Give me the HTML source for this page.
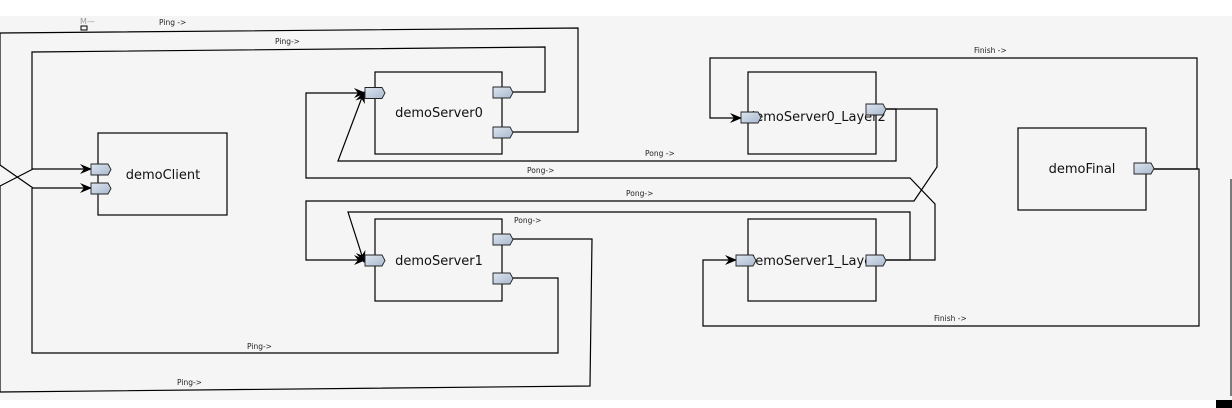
<!DOCTYPE html>
<html><head><meta charset="utf-8"><style>
html,body{margin:0;padding:0;background:#fff}
svg{display:block}
text{font-family:"DejaVu Sans","Liberation Sans",sans-serif}
</style></head><body>
<svg width="1232" height="408" viewBox="0 0 1232 408" xmlns="http://www.w3.org/2000/svg">
<defs>
<linearGradient id="pg" x1="0" y1="0" x2="1" y2="1">
<stop offset="0" stop-color="#dde5f0"/><stop offset="1" stop-color="#a9b9cf"/>
</linearGradient>
<marker id="ar" markerWidth="12" markerHeight="10" refX="11" refY="5" orient="auto" markerUnits="userSpaceOnUse">
<path d="M0,0 L12,5 L0,10 L4,5 Z" fill="#000"/>
</marker>
</defs>
<rect x="0" y="16" width="1232" height="384" fill="#f5f5f5"/>
<g fill="none" stroke="#000" stroke-width="1.2">
<polyline points="513,132 578,132 578,28 0,33 0,165 33,188 91,188" marker-end="url(#ar)"/>
<polyline points="513,92 545,92 545,47 32,52 32,169 91,169" marker-end="url(#ar)"/>
<polyline points="513,278 558,278 558,353 32,353 32,188"/>
<polyline points="513,239 592,239 590,386 0,392 0,186 33,169"/>
<polyline points="886,109 937,109 937,167 914,201 306,201 306,260 365,260" marker-end="url(#ar)"/>
<polyline points="886,260 935,260 935,204 910,178 306,178 306,93 365,93" marker-end="url(#ar)"/>
<polyline points="886,109 896,109 896,161 338,161 364,92" marker-end="url(#ar)"/>
<polyline points="886,260 910,260 910,212 348,212 364,262" marker-end="url(#ar)"/>
<polyline points="1154,169 1197,169 1197,58 710,58 710,118 741,118" marker-end="url(#ar)"/>
<polyline points="1154,169 1199,169 1199,326 703,326 703,260 736,260" marker-end="url(#ar)"/>
</g>
<g fill="#f5f5f5" stroke="#000" stroke-width="1.2">
<rect x="98" y="133" width="129" height="82"/>
<rect x="375" y="72" width="127" height="82"/>
<rect x="375" y="219" width="127" height="82"/>
<rect x="748" y="72" width="128" height="82"/>
<rect x="748" y="219" width="128" height="82"/>
<rect x="1018" y="128" width="128" height="82"/>
</g>
<g font-size="13" fill="#111" text-anchor="middle">
<text x="163" y="179">demoClient</text>
<text x="439" y="117">demoServer0</text>
<text x="439" y="265">demoServer1</text>
<text x="1082" y="173">demoFinal</text>
</g>
<g font-size="13" fill="#111">
<text x="747" y="121">demoServer0_Layer2</text>
<text x="747" y="265">demoServer1_Layer2</text>
</g>
<g fill="url(#pg)" stroke="#222" stroke-width="0.9">
<path d="M91,164h17l3,5.5l-3,5.5h-17z"/>
<path d="M91,183h17l3,5.5l-3,5.5h-17z"/>
<path d="M365,87.5h17l3,5.5l-3,5.5h-17z"/>
<path d="M493,87h17l3,5.5l-3,5.5h-17z"/>
<path d="M493,127h17l3,5.5l-3,5.5h-17z"/>
<path d="M365,255h17l3,5.5l-3,5.5h-17z"/>
<path d="M493,234h17l3,5.5l-3,5.5h-17z"/>
<path d="M493,273h17l3,5.5l-3,5.5h-17z"/>
<path d="M741,112h17l3,5.5l-3,5.5h-17z"/>
<path d="M866,104h17l3,5.5l-3,5.5h-17z"/>
<path d="M736,255h17l3,5.5l-3,5.5h-17z"/>
<path d="M866,255h17l3,5.5l-3,5.5h-17z"/>
<path d="M1134,163h17l3,5.5l-3,5.5h-17z"/>
</g>
<g font-size="7.5" fill="#222">
<text x="159" y="25">Ping -&gt;</text>
<text x="275" y="44">Ping-&gt;</text>
<text x="247" y="349">Ping-&gt;</text>
<text x="177" y="385">Ping-&gt;</text>
<text x="645" y="156">Pong -&gt;</text>
<text x="527" y="173">Pong-&gt;</text>
<text x="626" y="196">Pong-&gt;</text>
<text x="514" y="223">Pong-&gt;</text>
<text x="974" y="53">Finish -&gt;</text>
<text x="934" y="321">Finish -&gt;</text>
</g>
<text x="80" y="24" font-size="8" fill="#999">M—</text>
<rect x="81" y="26" width="6" height="4" fill="none" stroke="#000" stroke-width="1"/>
<line x1="1231" y1="179" x2="1231" y2="396" stroke="#000" stroke-width="1"/>
<rect x="1216" y="400" width="16" height="8" fill="#000"/>
</svg>
</body></html>
